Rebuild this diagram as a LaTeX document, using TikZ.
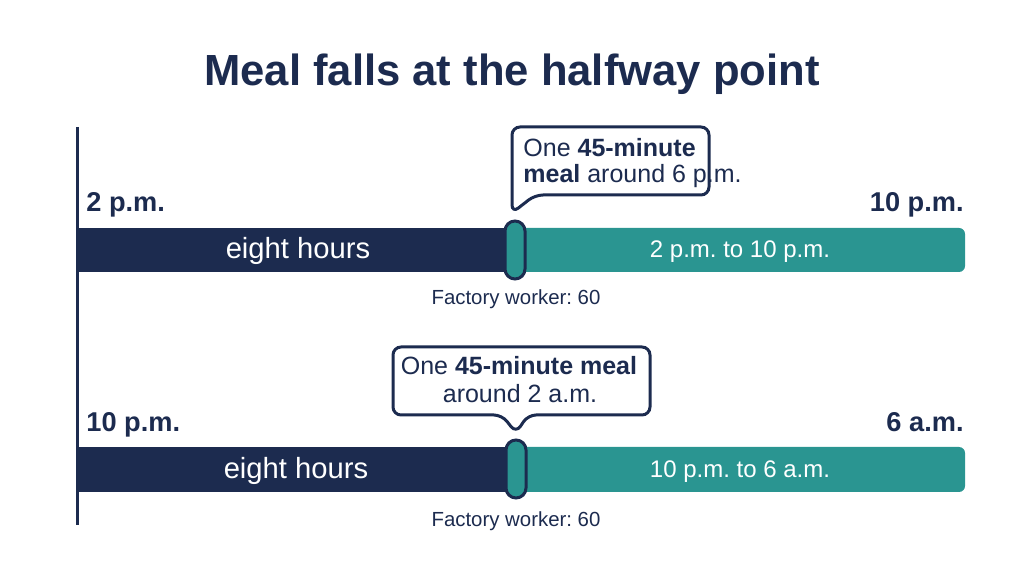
\documentclass[tikz,border=0pt]{standalone}
\usepackage{fontspec}
\setmainfont{Liberation Sans}
\definecolor{navy}{HTML}{1C2B4F}
\definecolor{mealteal}{HTML}{2A9591}
\frenchspacing
\begin{document}
\begin{tikzpicture}[x=0.5pt,y=-0.5pt,
  hour/.style={font=\bfseries\fontsize{13.6}{16}\selectfont,text=navy,inner sep=0pt},
  barlabel/.style={text=white,font=\fontsize{14.6}{17}\selectfont,inner sep=0pt},
  spanlabel/.style={text=white,font=\fontsize{12}{14}\selectfont,inner sep=0pt},
  note/.style={text=navy,font=\fontsize{10.2}{12}\selectfont,inner sep=0pt},
  calltext/.style={text=navy,font=\fontsize{12.5}{15}\selectfont,inner sep=0pt},
  callout/.style={draw=navy,fill=white,line width=1.5pt,rounded corners=4pt},
  handle/.style={draw=navy,fill=mealteal,line width=1.5pt,rounded corners=5pt}]
\useasboundingbox (0,0) rectangle (1024,572);
\node[font=\bfseries\fontsize{21.8}{26}\selectfont,text=navy,anchor=base] (title) at (512,86) {Meal falls at the halfway point};
\coordinate (axtop) at (77,127);
\coordinate (axbot) at (77,525);
\draw[navy,line width=1.5pt] (axtop) -- (axbot);

% afternoon shift
\fill[mealteal,rounded corners=3pt] (500,228) rectangle (965,272);
\fill[navy] (77,228) rectangle (515,272);
\draw[handle] (505,221) rectangle (525,279);
\node[hour,anchor=base west] (pmstart) at (86,212) {2 p.m.};
\node[hour,anchor=base east] (pmend) at (964,212) {10 p.m.};
\node[barlabel,anchor=base] (pmhours) at (298,259) {eight hours};
\node[spanlabel,anchor=base] (pmspan) at (740,258) {2 p.m. to 10 p.m.};
\node[note,anchor=base] (pmnote) at (516,305) {Factory worker: 60};
\draw[callout] (512,213) -- (535,195) -- (709,195) -- (709,127) -- (512,127) -- cycle;
\node[calltext,anchor=base west] (pmmeal) at (523,157) {One \textbf{45-minute}};
\node[calltext,anchor=base west] (pmaround) at (523,183) {\textbf{meal} around 6 p.m.};

% night shift
\fill[mealteal,rounded corners=3pt] (500,447) rectangle (965,492);
\fill[navy] (77,447) rectangle (515,492);
\draw[handle] (506,440) rectangle (526,498);
\node[hour,anchor=base west] (amstart) at (86,432) {10 p.m.};
\node[hour,anchor=base east] (amend) at (964,432) {6 a.m.};
\node[barlabel,anchor=base] (amhours) at (296,479) {eight hours};
\node[spanlabel,anchor=base] (amspan) at (740,478) {10 p.m. to 6 a.m.};
\node[note,anchor=base] (amnote) at (516,526) {Factory worker: 60};
\draw[callout] (516,433) -- (528,415) -- (650,415) -- (650,347) -- (393,347) -- (393,415) -- (502,415) -- cycle;
\node[calltext,anchor=base] (ammeal) at (519,375) {One \textbf{45-minute meal}};
\node[calltext,anchor=base] (amaround) at (520,403) {around 2 a.m.};
\end{tikzpicture}
\end{document}
